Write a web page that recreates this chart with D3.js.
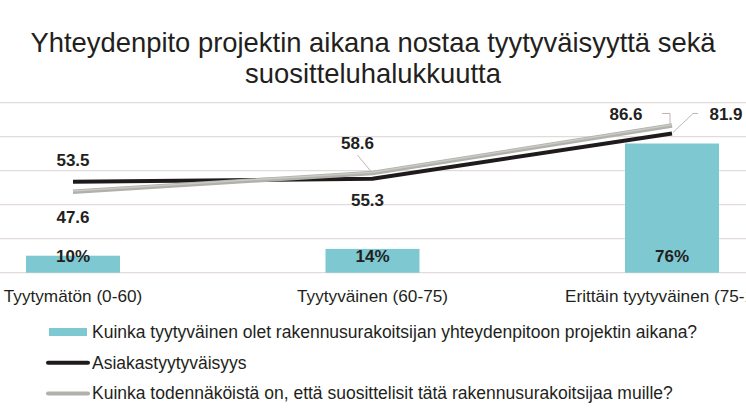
<!DOCTYPE html>
<html>
<head>
<meta charset="utf-8">
<script src="https://cdn.jsdelivr.net/npm/d3@7"></script>
<style>
  body { margin: 0; background: #fff; }
  text { font-family: "Liberation Sans", Arial, sans-serif; fill: #231f20; }
</style>
</head>
<body>
<div id="chart"></div>
<script>
// data
var categories = ["Tyytymätön (0-60)", "Tyytyväinen (60-75)", "Erittäin tyytyväinen (75-100)"];
var barValues  = [10, 14, 76];      // % of respondents
var satisfaction = [53.5, 55.3, 81.9];   // Asiakastyytyväisyys
var recommend    = [47.6, 58.6, 86.6];   // suositteluhalukkuus
var yTicks = [0, 20, 40, 60, 80, 100];

var titleLines = ["Yhteydenpito projektin aikana nostaa tyytyväisyyttä sekä", "suositteluhalukkuutta"];
var legendLabels = [
    "Kuinka tyytyväinen olet rakennusurakoitsijan yhteydenpitoon projektin aikana?",
    "Asiakastyytyväisyys",
    "Kuinka todennäköistä on, että suosittelisit tätä rakennusurakoitsijaa muille?"
];

var W = 746, H = 419;
var barColor = "#7ec8d1", blackLine = "#1f1b1c", greyLine = "#b1b1ab", gridColor = "#e3dada";

var svg = d3.select("#chart").append("svg").attr("width", W).attr("height", H);

// title
svg.append("g").selectAll("text").data(titleLines).enter()
    .append("text")
    .attr("x", 373)
    .attr("y", function(d, i) { return 51.5 + i * 31.5; })
    .attr("text-anchor", "middle")
    .style("font-size", "27.4px")
    .text(function(d) { return d; });

var x = d3.scalePoint().domain(categories).range([73, 672]);
var y = d3.scaleLinear().domain([0, 100]).range([272.7, 102.7]);
var barW = 94;

// gridlines
svg.append("g").selectAll("line").data(yTicks).enter()
    .append("line")
    .attr("x1", 0).attr("x2", W)
    .attr("y1", function(d) { return y(d); })
    .attr("y2", function(d) { return y(d); })
    .attr("stroke", gridColor).attr("stroke-width", 1.3);

// bars
var cats = categories.map(function(c, i) {
    return { k: c, bar: barValues[i], sat: satisfaction[i], rec: recommend[i] };
});
svg.append("g").selectAll("rect").data(cats).enter()
    .append("rect")
    .attr("x", function(d) { return x(d.k) - barW / 2; })
    .attr("y", function(d) { return y(d.bar); })
    .attr("width", barW)
    .attr("height", function(d) { return y(0) - y(d.bar); })
    .attr("fill", barColor);

// x labels
svg.append("g").selectAll("text").data(cats).enter()
    .append("text")
    .attr("x", function(d) { return x(d.k); })
    .attr("y", 302)
    .attr("text-anchor", "middle")
    .style("font-size", "17.2px")
    .text(function(d) { return d.k; });

// lines
var line = function(key) {
    return d3.line().x(function(d) { return x(d.k); }).y(function(d) { return y(d[key]); });
};
svg.append("path").datum(cats).attr("d", line("sat"))
    .attr("fill", "none").attr("stroke", blackLine).attr("stroke-width", 4);
svg.append("path").datum(cats).attr("d", line("rec"))
    .attr("fill", "none").attr("stroke", greyLine).attr("stroke-width", 4.5);
svg.append("path").datum(cats).attr("d", line("rec"))
    .attr("fill", "none").attr("stroke", "#c9c9c5").attr("stroke-width", 1.5)
    .attr("transform", "translate(0,-0.8)");

// bar labels
svg.append("g").selectAll("text").data(cats).enter()
    .append("text")
    .attr("x", function(d) { return x(d.k); })
    .attr("y", y(0) - 11)
    .attr("text-anchor", "middle")
    .style("font-size", "17px").style("font-weight", "bold")
    .text(function(d) { return d.bar + "%"; });

// line value labels (offsets from the point, some with leaders)
var satOff = [[0, -16], [-5, 27], [54, -13]];
var recOff = [[0, 31], [-15, -24], [-46, -5]];
var lab = svg.append("g");
cats.forEach(function(d, i) {
    lab.append("text")
        .attr("x", x(d.k) + satOff[i][0]).attr("y", y(d.sat) + satOff[i][1])
        .attr("text-anchor", "middle")
        .style("font-size", "17px").style("font-weight", "bold")
        .text(d.sat.toFixed(1));
    lab.append("text")
        .attr("x", x(d.k) + recOff[i][0]).attr("y", y(d.rec) + recOff[i][1])
        .attr("text-anchor", "middle")
        .style("font-size", "17px").style("font-weight", "bold")
        .text(d.rec.toFixed(1));
});

// leader lines
var leader = "#c4b4b4";
var px = function(i) { return x(categories[i]); };
lab.append("path")
    .attr("d", d3.line()([[px(1) - 15, y(recommend[1]) - 18], [px(1) - 1, y(recommend[1]) - 1]]))
    .attr("fill", "none").attr("stroke", leader);
lab.append("path")
    .attr("d", d3.line()([[px(2) - 10, y(recommend[2]) - 12], [px(2) - 2, y(recommend[2]) - 12], [px(2) - 2, y(recommend[2]) - 1]]))
    .attr("fill", "none").attr("stroke", leader);
lab.append("path")
    .attr("d", d3.line()([[px(2) + 26, y(satisfaction[2]) - 20], [px(2) + 21, y(satisfaction[2]) - 20], [px(2) + 1, y(satisfaction[2]) - 1]]))
    .attr("fill", "none").attr("stroke", leader);

// legend
var leg = svg.append("g").selectAll("g").data(legendLabels).enter()
    .append("g")
    .attr("transform", function(d, i) { return "translate(0," + (332 + i * 30.7) + ")"; });
leg.each(function(d, i) {
    var g = d3.select(this);
    if (i === 0) {
        g.append("rect").attr("x", 49).attr("y", -4).attr("width", 38).attr("height", 8).attr("fill", barColor);
    } else {
        g.append("line").attr("x1", 48).attr("x2", 88).attr("y1", 0).attr("y2", 0)
            .attr("stroke", i === 1 ? blackLine : greyLine).attr("stroke-width", 4)
            .attr("stroke-linecap", "round");
    }
    g.append("text").attr("x", 92).attr("y", 6)
        .style("font-size", "17.5px")
        .text(d);
});
</script>
</body>
</html>
